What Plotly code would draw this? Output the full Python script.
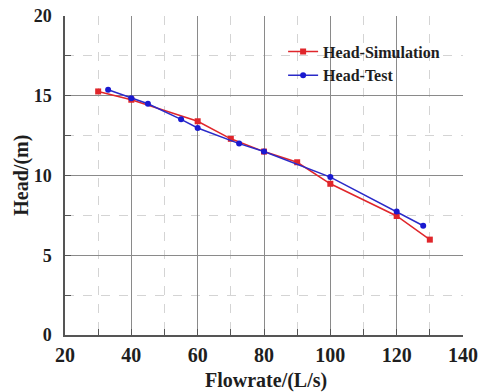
import plotly.graph_objects as go

sim_flow = [30, 40, 60, 70, 80, 90, 100, 120, 130]
sim_head = [15.27, 14.75, 13.4, 12.3, 11.5, 10.83, 9.48, 7.46, 5.98]
test_flow = [33, 40, 45, 55, 60, 72.5, 80, 100, 120, 128]
test_head = [15.38, 14.85, 14.5, 13.52, 12.98, 12.0, 11.5, 9.9, 7.75, 6.85]

font_family = "Liberation Serif"
txt = "#1e1e1e"

fig = go.Figure()
fig.add_trace(go.Scatter(x=sim_flow, y=sim_head, mode="lines+markers", name="<b>Head-Simulation</b>",
                         line=dict(color="#e0262b", width=1.5),
                         marker=dict(symbol="square", size=6, color="#e0262b")))
fig.add_trace(go.Scatter(x=test_flow, y=test_head, mode="lines+markers", name="<b>Head-Test</b>",
                         line=dict(color="#2a2ac8", width=1.5),
                         marker=dict(symbol="circle", size=6, color="#1a1ad0")))

axis_common = dict(
    showline=True, linecolor="#555555", linewidth=1.5,
    ticks="inside", ticklen=6, tickcolor="#555555",
    showgrid=True, gridcolor="#8a8a8a", gridwidth=1,
    zeroline=False, automargin=False,
    tickprefix="<b>", ticksuffix="</b>",
    mirror=False,
)

fig.update_xaxes(range=[20, 140], dtick=20, **axis_common,
                 tickfont=dict(family=font_family, size=20, color=txt),
                 ticklabelstandoff=1,
                 minor=dict(dtick=10, showgrid=True, gridcolor="#d4d4d4", griddash="dash",
                            ticks="inside", ticklen=6, tickcolor="#555555"))
fig.update_yaxes(range=[0, 20], dtick=5, **axis_common,
                 tickfont=dict(family=font_family, size=18, color=txt),
                 ticklabelstandoff=8,
                 minor=dict(dtick=2.5, showgrid=True, gridcolor="#d4d4d4", griddash="dash",
                            ticks="inside", ticklen=6, tickcolor="#555555"))

fig.add_annotation(text="<b>Flowrate/(L/s)</b>", xref="paper", yref="paper", x=0.505, y=-0.1,
                   xanchor="center", yanchor="top", showarrow=False,
                   font=dict(family=font_family, size=20, color=txt))
fig.add_annotation(text="<b>Head/(m)</b>", xref="paper", yref="paper", x=-0.11, y=0.5,
                   xanchor="center", yanchor="middle", showarrow=False, textangle=-90,
                   font=dict(family=font_family, size=20, color=txt))

fig.update_layout(
    width=480, height=392,
    margin=dict(l=65, r=17, t=16, b=57),
    plot_bgcolor="white", paper_bgcolor="white",
    font=dict(family=font_family, size=15, color=txt),
    legend=dict(x=0.548, y=0.942, xanchor="left", yanchor="top",
                bgcolor="rgba(255,255,255,0)", borderwidth=0,
                font=dict(family=font_family, size=16, color=txt),
                tracegroupgap=0, itemwidth=30),
    showlegend=True,
)

fig.write_html("out.html", config={"displayModeBar": False},
               post_script="document.body.style.margin='0';document.body.style.overflow='hidden';")
